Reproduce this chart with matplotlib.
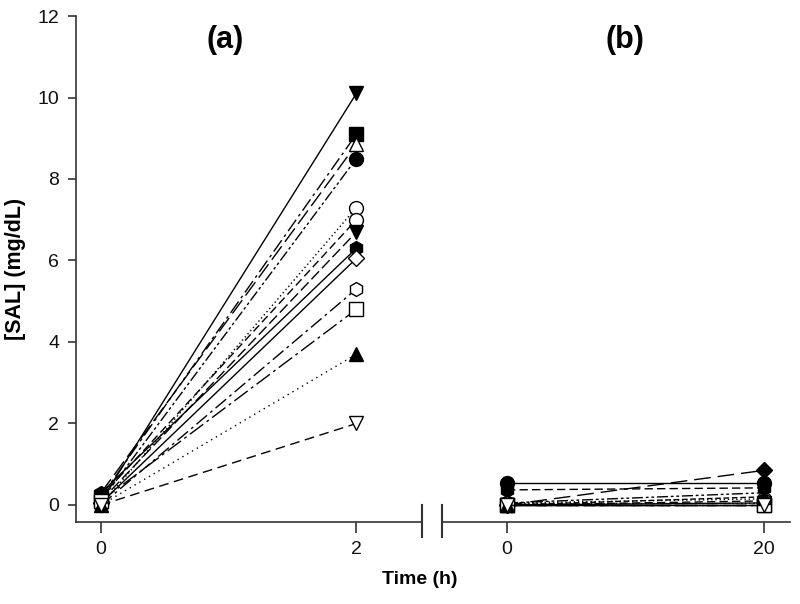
#! /usr/bin/env python3
import matplotlib
matplotlib.use('Agg')
import matplotlib.pyplot as plt

plt.rcParams['font.family'] = ['Liberation Sans', 'DejaVu Sans']

# data
#
t_a = [0, 2]
t_b = [0, 20]

sal_a = [
  [0.10, 10.1],
  [0.20, 9.1],
  [0.30, 8.85],
  [0.10, 8.5],
  [0.00, 7.3],
  [0.20, 7.0],
  [0.10, 6.7],
  [0.30, 6.3],
  [0.05, 6.05],
  [0.00, 5.3],
  [0.10, 4.8],
  [0.00, 3.7],
  [0.00, 2.0],
]

sal_b = [
  [0.00, 0.05],
  [0.00, 0.00],
  [0.05, 0.30],
  [0.55, 0.55],
  [0.05, 0.15],
  [0.00, 0.10],
  [0.00, 0.00],
  [0.37, 0.42],
  [0.00, 0.85],
  [0.05, 0.05],
  [0.00, 0.00],
  [0.00, 0.20],
  [0.00, 0.00],
]

markers = ['v', 's', '^', 'o', 'o', 'o', 'v', 'h', 'D', 'h', 's', '^', 'v']
filled = [True, True, False, True, False, False, True, True, False, False, False, True, False]
markers_b = ['v', 's', '^', 'o', 'o', 'o', 'v', 'h', 'D', 'h', 's', '^', 'v']
filled_b = [True, True, False, True, False, False, True, True, True, False, False, True, False]

styles = [
  '-',
  (0, (10, 3, 2, 3)),
  (0, (12, 4)),
  (0, (8, 2, 2, 2, 2, 2)),
  (0, (1, 2)),
  (0, (6, 3)),
  (0, (8, 3)),
  '-',
  '-',
  (0, (10, 3, 2, 3)),
  (0, (12, 3, 2, 3)),
  (0, (1, 3)),
  (0, (7, 4)),
]
styles_b = [
  '-', (0, (10, 3, 2, 3)), (0, (8, 2, 2, 2, 2, 2)), '-', (0, (1, 2)),
  (0, (6, 3)), '-', (0, (6, 3)), (0, (12, 5)), (0, (1, 2)),
  (0, (12, 3, 2, 3)), (0, (4, 2)), (0, (7, 4)),
]

# plot
#
fig = plt.figure(figsize=(8, 6.04), dpi=100)
ax_a = fig.add_axes([0.095, 0.1358, 0.4325, 0.8377])
ax_b = fig.add_axes([0.5525, 0.1358, 0.435, 0.8377])

spine_c = '#333333'

def draw(ax, t, sal, mk, fl, ls):
  for y, m, f, s in zip(sal, mk, fl, ls):
    ax.plot(
      t, y,
      color='black', linestyle=s, linewidth=1,
      marker=m, markersize=10 if m not in ('D',) else 8,
      markerfacecolor='black' if f else 'white',
      markeredgecolor='black', markeredgewidth=1,
      clip_on=False, zorder=3
    )

draw(ax_a, t_a, sal_a, markers, filled, styles)
draw(ax_b, t_b, sal_b, markers_b, filled_b, styles_b)

for ax in (ax_a, ax_b):
  ax.set_ylim(-0.417, 12)
  ax.spines['top'].set_visible(False)
  ax.spines['right'].set_visible(False)
  for sp in ax.spines.values():
    sp.set_color(spine_c)
    sp.set_linewidth(1.2)
  ax.tick_params(direction='out', length=8, width=1.2, color=spine_c,
                 labelsize=14, labelcolor='#111111', pad=6)

ax_a.set_xlim(-0.196, 2.514)
ax_a.set_xticks([0, 2])
ax_a.set_yticks([0, 2, 4, 6, 8, 10, 12])
ax_a.tick_params(axis='y', length=6)

ax_b.set_xlim(-5.06, 22.02)
ax_b.set_xticks([0, 20])
ax_b.spines['left'].set_visible(False)
ax_b.set_yticks([])

# axis break marks
#
ax_a.plot([1, 1], [-0.03, 0.034], transform=ax_a.transAxes,
          color=spine_c, linewidth=1.5, clip_on=False)
ax_b.plot([0, 0], [-0.03, 0.034], transform=ax_b.transAxes,
          color=spine_c, linewidth=1.5, clip_on=False)

ax_a.set_ylabel('[SAL] (mg/dL)', fontsize=15.5, fontweight='bold', labelpad=8)
fig.text(0.525, 0.04, 'Time (h)', fontsize=14, fontweight='bold',
         ha='center', va='center')
fig.text(0.281, 0.934, '(a)', fontsize=22, fontweight='bold',
         ha='center', va='center')
fig.text(0.781, 0.934, '(b)', fontsize=22, fontweight='bold',
         ha='center', va='center')

# output
#
plt.savefig('out.png', dpi=100)
